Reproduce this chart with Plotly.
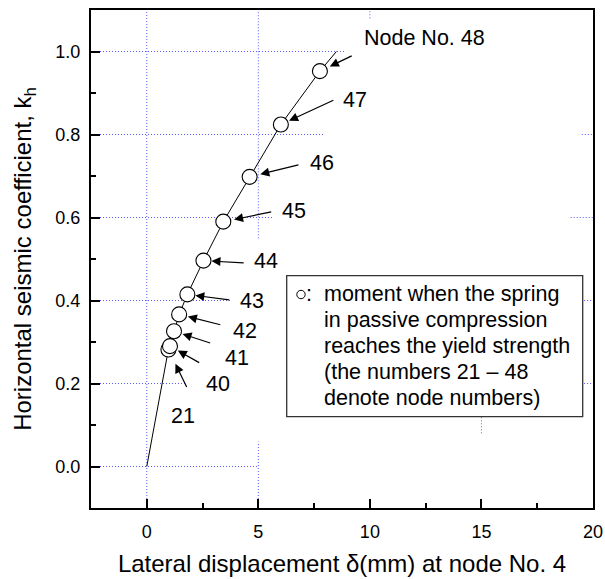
import plotly.graph_objects as go

# ---------------- data ----------------
curve_disp = [0.0, 0.97, 1.04, 1.22, 1.45, 1.82, 2.54, 3.43, 4.61, 6.01, 7.76, 8.50]
curve_kh = [0.0, 0.282, 0.290, 0.326, 0.3665, 0.4147, 0.496, 0.590, 0.698, 0.824, 0.9526, 1.0]

node_labels = ["21", "40", "41", "42", "43", "44", "45", "46", "47", "Node No. 48"]
node_disp = [0.97, 1.04, 1.22, 1.45, 1.82, 2.54, 3.43, 4.61, 6.01, 7.76]
node_kh = [0.282, 0.290, 0.326, 0.3665, 0.4147, 0.496, 0.590, 0.698, 0.824, 0.9526]

x_ticks = [0, 5, 10, 15, 20]
y_ticks = [0.0, 0.2, 0.4, 0.6, 0.8, 1.0]

legend_lines = [
    "moment when the spring",
    "in passive compression",
    "reaches the yield strength",
    "(the numbers 21 \u2013 48",
    "denote node numbers)",
]

# ---------------- layout geometry ----------------
W, H = 605, 579
ML, MR, MT, MB = 91, 12, 10, 71
XR = [-2.5, 20]
YR = [-0.1, 1.1]
PW = W - ML - MR
PH = H - MT - MB


def X(px):
    return XR[0] + (px - ML) / PW * (XR[1] - XR[0])


def Y(py):
    return YR[1] - (py - MT) / PH * (YR[1] - YR[0])


FONT = "Liberation Sans, Arial, Helvetica, sans-serif"
GRID = "#5a5aff"
AFS = 21.5

# arrow tail offsets (px, relative to node), label offsets (px), standoff
arrow_style = [
    (19, 39, 15, 66.7, 16),
    (30.7, 17.3, 48.3, 38, 9),
    (37.7, 12.3, 62.7, 26.3, 9),
    (42.7, 10.7, 66, 16.4, 9),
    (43.4, 5.7, 65, 6.4, 8),
    (41.7, 2.3, 62.7, 0.7, 8),
    (49.4, -10, 70.7, -11, 11),
    (50.3, -12.4, 72, -13.4, 11),
    (54, -25, 74, -24.3, 9),
    (33.3, -16, 105, -33, 11),
]

fig = go.Figure()

fig.add_trace(go.Scatter(
    x=curve_disp, y=curve_kh, mode="lines",
    line=dict(color="black", width=1), showlegend=False, hoverinfo="skip"))

fig.add_trace(go.Scatter(
    x=node_disp, y=node_kh, mode="markers",
    marker=dict(symbol="circle", size=15, color="white",
                line=dict(color="black", width=1.1)),
    showlegend=False))

annotations = []
for lab, xd, yd, (tx, ty, lx, ly, so) in zip(node_labels, node_disp, node_kh, arrow_style):
    annotations.append(dict(
        x=xd, y=yd, xref="x", yref="y", text="", showarrow=True,
        ax=tx, ay=ty, axref="pixel", ayref="pixel",
        arrowhead=2, arrowsize=1.5, arrowwidth=1.2, arrowcolor="black",
        standoff=so, startstandoff=0))
    annotations.append(dict(
        x=xd, y=yd, xref="x", yref="y", text=lab, showarrow=False,
        xshift=lx, yshift=-ly, xanchor="center", yanchor="middle",
        font=dict(family=FONT, size=AFS, color="black")))

# legend box text
line_y = [294.3, 320.3, 346.3, 372.3, 398.3]
for txt, py in zip(legend_lines, line_y):
    annotations.append(dict(
        x=X(321.5), y=Y(py), xref="x", yref="y", text=txt, showarrow=False,
        xanchor="left", yanchor="middle",
        font=dict(family=FONT, size=AFS, color="black")))
annotations.append(dict(
    x=X(309), y=Y(294.3), xref="x", yref="y", text=":", showarrow=False,
    xanchor="center", yanchor="middle",
    font=dict(family=FONT, size=AFS, color="black")))

shapes = []
# partial dotted grid lines (as visible in the original)
grid_h = [(1.0, -2.5, 8.9), (0.8, -2.5, 7.9), (0.6, -2.5, 5.65),
          (0.4, -2.5, 3.8), (0.2, -2.5, 1.8), (0.0, -2.5, 5.0),
          (0.8, 19.5, 20), (0.6, 19.0, 20), (0.4, 19.6, 20), (0.2, 19.6, 20)]
for yv, x0, x1 in grid_h:
    shapes.append(dict(type="line", xref="x", yref="y", x0=x0, x1=x1, y0=yv, y1=yv,
                       line=dict(color=GRID, width=1, dash="1px,2px"), layer="below"))
grid_v = [(0, -0.1, 1.1), (5, 0.55, 1.1), (5, -0.1, 0.06), (10, 1.08, 1.1), (15, 0.08, 0.12)]
for xv, y0, y1 in grid_v:
    shapes.append(dict(type="line", xref="x", yref="y", x0=xv, x1=xv, y0=y0, y1=y1,
                       line=dict(color=GRID, width=1, dash="1px,2px"), layer="below"))

# legend frame
shapes.append(dict(type="rect", xref="x", yref="y",
                   x0=X(286.7), x1=X(582.7), y0=Y(416.7), y1=Y(275.7),
                   line=dict(color="#333333", width=1.3), fillcolor="white", layer="above"))
# legend symbol
shapes.append(dict(type="circle", xref="x", yref="y", xsizemode="pixel", ysizemode="pixel",
                   xanchor=X(301), yanchor=Y(294.5), x0=-4.2, x1=4.2, y0=-4.2, y1=4.2,
                   line=dict(color="black", width=1), fillcolor="white", layer="above"))

fig.update_layout(
    width=W, height=H,
    margin=dict(l=ML, r=MR, t=MT, b=MB, autoexpand=False),
    paper_bgcolor="white", plot_bgcolor="white",
    font=dict(family=FONT, size=18, color="black"),
    shapes=shapes, annotations=annotations, showlegend=False,
)

fig.update_xaxes(
    range=XR, tickmode="array", tickvals=x_ticks, ticktext=[str(v) for v in x_ticks],
    ticks="inside", ticklen=9, tickwidth=2, tickcolor="black",
    minor=dict(dtick=2.5, tick0=0, ticks="inside", ticklen=5, tickwidth=2, tickcolor="black", showgrid=False),
    showline=True, linewidth=2, linecolor="black", mirror=True,
    showgrid=False, zeroline=False, ticklabelstandoff=6,
    tickfont=dict(family=FONT, size=18),
    title=dict(text="Lateral displacement \u03b4(mm) at node No. 4",
               font=dict(family=FONT, size=24), standoff=15),
    automargin=False,
)
fig.update_yaxes(
    range=YR, tickmode="array", tickvals=y_ticks, ticktext=[f"{v:.1f}" for v in y_ticks],
    ticks="inside", ticklen=9, tickwidth=2, tickcolor="black",
    minor=dict(dtick=0.1, tick0=0, ticks="inside", ticklen=5, tickwidth=2, tickcolor="black", showgrid=False),
    showline=True, linewidth=2, linecolor="black", mirror=True,
    showgrid=False, zeroline=False, ticklabelstandoff=5,
    tickfont=dict(family=FONT, size=18),
    title=dict(text="Horizontal seismic coefficient, k<sub>h</sub>",
               font=dict(family=FONT, size=24), standoff=17),
    automargin=False,
)

fig.write_html("out.html", config={"displayModeBar": False},
               post_script="document.body.style.margin='0';document.body.style.overflow='hidden';")
